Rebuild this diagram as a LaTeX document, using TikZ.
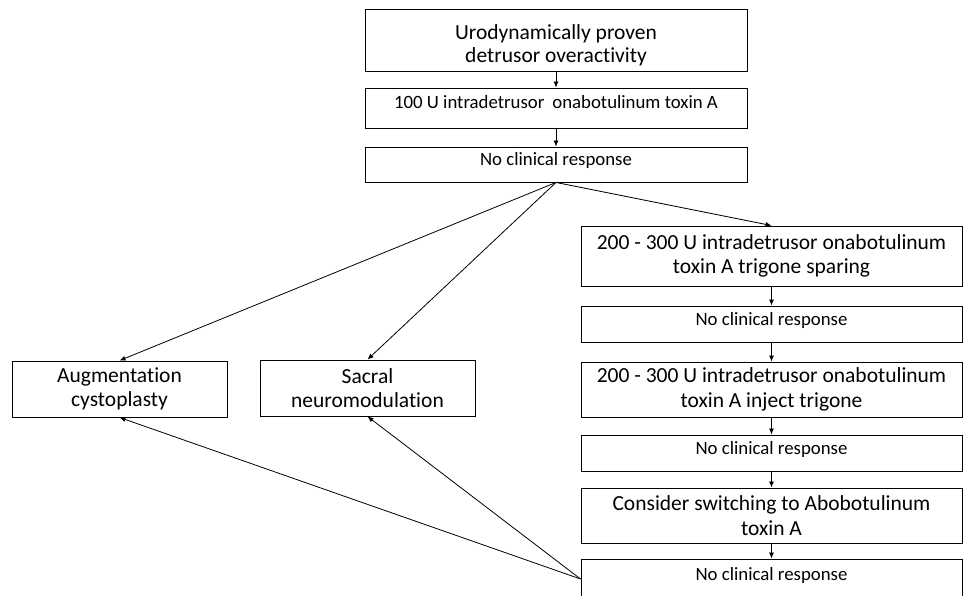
\documentclass[tikz,border=0pt]{standalone}
\usepackage{fontspec}
\setmainfont{Carlito}[Ligatures=NoCommon]
\usetikzlibrary{arrows.meta,positioning}

\begin{document}
\begin{tikzpicture}[x=1pt,y=-1pt,>={Latex[length=6pt,width=5pt]},
   bx/.style={draw,line width=0.9pt,align=center,inner sep=2pt,
     font=\fontsize{21.5}{24.5}\selectfont},
   sbx/.style={bx,font=\fontsize{18.8}{21}\selectfont,text height=13pt,text depth=11pt},
   ar/.style={->,line width=0.8pt}]
  \useasboundingbox (0,0) rectangle (963,596);
  % top of the chart
  \node[bx,font=\fontsize{21.5}{23}\selectfont,text height=51pt,text depth=6pt,
    minimum width=382pt,minimum height=62pt] (uro) at (556,40)
    {Urodynamically proven\\detrusor overactivity};
  \node[sbx,minimum width=382pt,minimum height=40pt] (onaA) at (556,108)
    {100 U intradetrusor\hspace{0.2em} onabotulinum toxin A};
  \node[sbx,minimum width=382pt,minimum height=35pt] (nr1) at (556,164.5)
    {No clinical response};
  % surgical options
  \node[bx,minimum width=215pt,minimum height=56pt] (aug) at (119.5,389)
    {Augmentation\\cystoplasty};
  \node[bx,minimum width=215pt,minimum height=56pt] (snm) at (367.5,388)
    {Sacral\\neuromodulation};
  % right column
  \node[bx,minimum width=381pt,minimum height=60pt] (spare) at (771.5,256)
    {200 - 300 U intradetrusor onabotulinum\\toxin A trigone sparing};
  \node[sbx,minimum width=381pt,minimum height=36pt] (nr2) at (771.5,324)
    {No clinical response};
  \node[bx,minimum width=381pt,minimum height=55pt] (trig) at (771.5,389.5)
    {200 - 300 U intradetrusor onabotulinum\\toxin A inject trigone};
  \node[sbx,minimum width=381pt,minimum height=36pt] (nr3) at (771.5,453)
    {No clinical response};
  \node[bx,minimum width=381pt,minimum height=55pt] (abo) at (771.5,515.5)
    {Consider switching to Abobotulinum\\toxin A};
  \node[sbx,minimum width=381pt,minimum height=40pt] (nr4) at (771.5,579)
    {No clinical response};

  \draw[ar] (uro)--(onaA);
  \draw[ar] (onaA)--(nr1);
  \draw[ar] (nr1.south)--(aug.north);
  \draw[ar] (nr1.south)--(snm.north);
  \draw[ar] (nr1.south)--(spare.north);
  \draw[ar] (spare)--(nr2);
  \draw[ar] (nr2)--(trig);
  \draw[ar] (trig)--(nr3);
  \draw[ar] (nr3)--(abo);
  \draw[ar] (abo)--(nr4);
  \draw[ar] (nr4.west)--(aug.south);
  \draw[ar] (nr4.west)--(snm.south);
\end{tikzpicture}
\end{document}
